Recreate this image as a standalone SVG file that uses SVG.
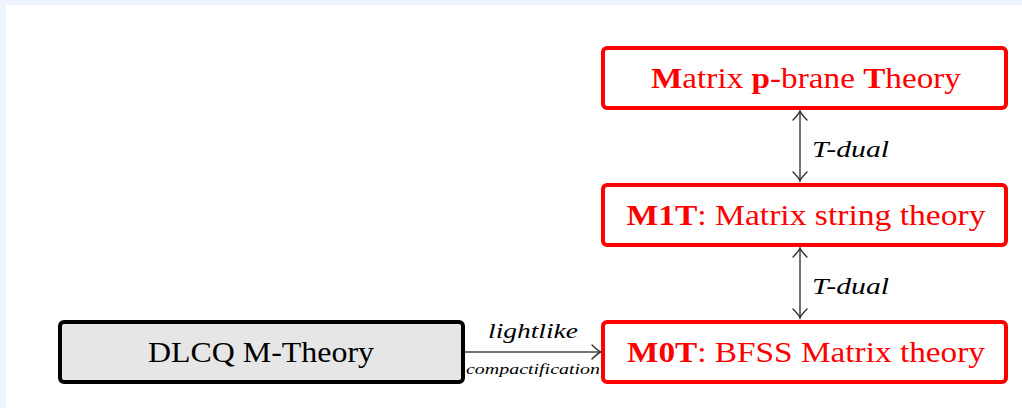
<svg xmlns="http://www.w3.org/2000/svg" width="1022" height="408" viewBox="0 0 1022 408">
<style>
.bg{fill:#edf4fd}
.red rect{fill:#fff;stroke:#ff0000;stroke-width:4}
.red text{fill:#ff0000}
.black rect{fill:#e6e6e6;stroke:#000;stroke-width:4}
text{font-family:"Liberation Serif","DejaVu Serif",serif;font-size:29px;text-anchor:middle}
.lbl{font-style:italic;font-size:23px;text-anchor:start;fill:#000}
.small{font-style:italic;font-size:15px;fill:#000}
.conn line{stroke:#444;stroke-width:1.5;fill:none}
.head{fill:none;stroke:#333;stroke-width:1.4;stroke-linecap:round}
</style>
<defs>
<marker id="to" viewBox="-10 -8 12 16" refX="0" refY="0" markerWidth="12" markerHeight="16" markerUnits="userSpaceOnUse" orient="auto-start-reverse">
<path class="head" d="M-9,-7 Q-3,-1 0,0 Q-3,1 -9,7"/>
</marker>
</defs>
<rect class="bg" x="0" y="0" width="1022" height="5"/>
<rect class="bg" x="0" y="0" width="6" height="408"/>
<g id="n-pbrane" class="red">
<rect x="603" y="48" width="403" height="60" rx="4"/>
<text x="806" y="88" textLength="310" lengthAdjust="spacingAndGlyphs"><tspan font-weight="bold">M</tspan>atrix <tspan font-weight="bold">p</tspan>-brane <tspan font-weight="bold">T</tspan>heory</text>
</g>
<g id="n-m1t" class="red">
<rect x="603" y="185" width="403" height="60" rx="4"/>
<text x="806" y="225" textLength="359" lengthAdjust="spacingAndGlyphs"><tspan font-weight="bold">M1T</tspan>: Matrix string theory</text>
</g>
<g id="n-m0t" class="red">
<rect x="603" y="322" width="403" height="60" rx="4"/>
<text x="806" y="362" textLength="358" lengthAdjust="spacingAndGlyphs"><tspan font-weight="bold">M0T</tspan>: BFSS Matrix theory</text>
</g>
<g id="n-dlcq" class="black">
<rect x="60" y="322" width="403" height="60" rx="4"/>
<text x="261" y="362" textLength="226" lengthAdjust="spacingAndGlyphs">DLCQ M-Theory</text>
</g>
<g id="connectors" class="conn">
<line x1="465" y1="352" x2="601" y2="352" marker-end="url(#to)"/>
<text class="small" style="font-size:22px" x="533" y="338" textLength="90" lengthAdjust="spacingAndGlyphs">lightlike</text>
<text class="small" x="533" y="374" textLength="134" lengthAdjust="spacingAndGlyphs">compactification</text>
<line x1="800" y1="111" x2="800" y2="181" marker-start="url(#to)" marker-end="url(#to)"/>
<text class="lbl" x="812" y="157" textLength="77" lengthAdjust="spacingAndGlyphs">T-dual</text>
<line x1="800" y1="248" x2="800" y2="318" marker-start="url(#to)" marker-end="url(#to)"/>
<text class="lbl" x="812" y="294" textLength="77" lengthAdjust="spacingAndGlyphs">T-dual</text>
</g>
</svg>
